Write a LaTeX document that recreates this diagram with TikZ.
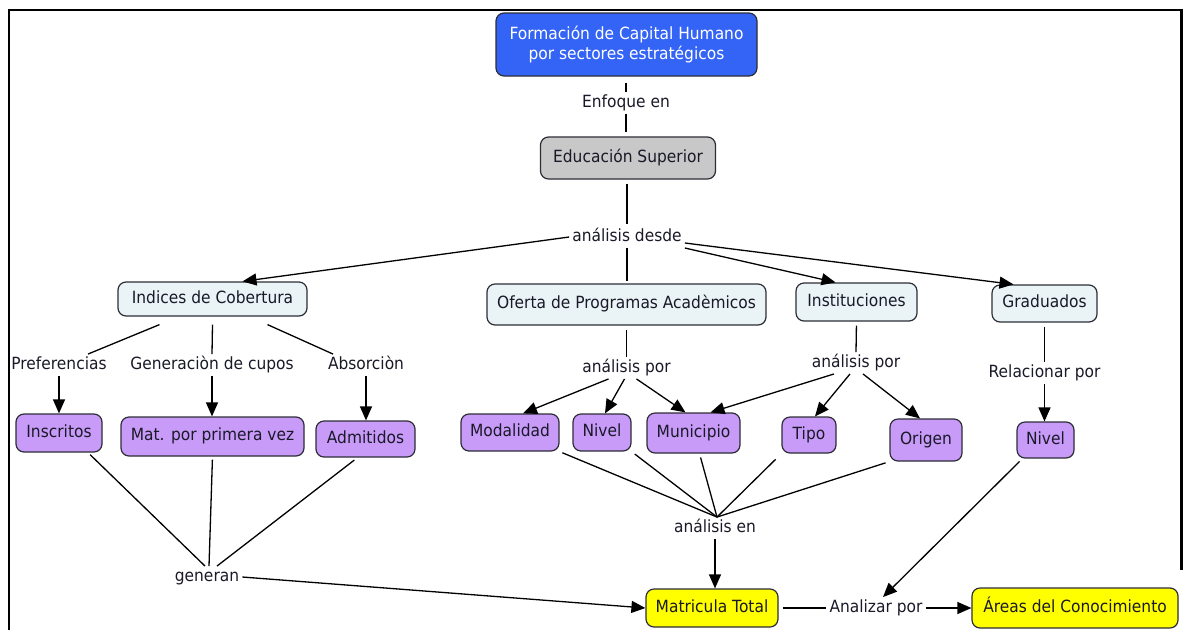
\documentclass[tikz,border=0pt]{standalone}
\usepackage{fontspec}
\setmainfont{DejaVu Sans}[FakeStretch=0.92]
\usetikzlibrary{arrows.meta}

\definecolor{boxline}{RGB}{45,45,55}
\definecolor{txt}{RGB}{25,25,40}
\definecolor{bluefill}{RGB}{52,100,245}
\definecolor{lightfill}{RGB}{234,243,246}
\definecolor{grayfill}{RGB}{200,200,200}
\definecolor{purplefill}{RGB}{200,155,248}
\definecolor{yellowfill}{RGB}{255,255,0}

\tikzset{
  basefont/.style={font=\fontsize{16.8}{20}\selectfont},
  box/.style={basefont, draw=boxline, line width=1.2pt, rounded corners=8pt,
    inner xsep=6pt, inner ysep=3pt, align=center, text=txt,
    text height=12pt, text depth=3.5pt},
  mainbox/.style={box, fill=bluefill, text=white, text height=, text depth=},
  topicbox/.style={box, fill=lightfill},
  graybox/.style={box, fill=grayfill},
  itembox/.style={box, fill=purplefill},
  resultbox/.style={box, fill=yellowfill},
  lbl/.style={basefont, inner sep=3pt, text=txt, text height=12pt, text depth=3.5pt},
  link/.style={draw=black, line width=1.3pt},
  arr/.style={link, -{Triangle[length=14pt,width=12pt]}},
}

\begin{document}
\begin{tikzpicture}[x=1pt,y=-1pt]
\useasboundingbox (0,0) rectangle (1183,630);

% frame
\draw[line width=2.2pt] (9,630) -- (9,10) -- (1181.5,10) -- (1181.5,570);

% concept boxes
\node[mainbox, minimum width=261pt, minimum height=63pt] (top) at (626.5,44.5)
  {Formación de Capital Humano\\por sectores estratégicos};
\node[graybox, minimum width=175pt, minimum height=42pt] (edu) at (628,158) {Educación Superior};

\node[topicbox, minimum width=189pt, minimum height=34pt] (idx) at (212.5,299) {Indices de Cobertura};
\node[topicbox, minimum width=279pt, minimum height=41pt] (ofe) at (626.5,304.5) {Oferta de Programas Acadèmicos};
\node[topicbox, minimum width=121pt, minimum height=38pt] (inst) at (856.5,302) {Instituciones};
\node[topicbox, minimum width=105pt, minimum height=37pt] (grad) at (1044.5,303.5) {Graduados};

\node[itembox, minimum width=86pt, minimum height=38pt] (insc) at (59,433) {Inscritos};
\node[itembox, minimum width=183pt, minimum height=39pt] (matp) at (212.5,436.5) {Mat. por primera vez};
\node[itembox, minimum width=99pt, minimum height=36pt] (adm) at (365.5,439) {Admitidos};

\node[itembox, minimum width=98pt, minimum height=37pt] (mod) at (510,432.5) {Modalidad};
\node[itembox, minimum width=58pt, minimum height=37pt] (niva) at (602,432.5) {Nivel};
\node[itembox, minimum width=93pt, minimum height=40pt] (mun) at (693.5,433) {Municipio};
\node[itembox, minimum width=54pt, minimum height=36pt] (tipo) at (809,435) {Tipo};
\node[itembox, minimum width=72pt, minimum height=42pt] (orig) at (926,440) {Origen};
\node[itembox, minimum width=57pt, minimum height=36pt] (nivb) at (1045.5,440) {Nivel};

\node[resultbox, minimum width=132pt, minimum height=38pt] (mat) at (712,608) {Matricula Total};
\node[resultbox, minimum width=206pt, minimum height=40pt] (areas) at (1075,608) {Áreas del Conocimiento};

% linking phrases
\node[lbl] (enf) at (626,103) {Enfoque en};
\node[lbl] (desde) at (627,237) {análisis desde};
\node[lbl] (pref) at (59,365) {Preferencias};
\node[lbl] (gcup) at (212,365) {Generaciòn de cupos};
\node[lbl] (abs) at (366,365) {Absorciòn};
\node[lbl] (apa) at (626.5,368) {análisis por};
\node[lbl] (apb) at (856,363) {análisis por};
\node[lbl] (rel) at (1044.5,373) {Relacionar por};
\node[lbl] (ae) at (715,528) {análisis en};
\node[lbl] (gen) at (207,577) {generan};
\node[lbl] (anal) at (876,608) {Analizar por};

% top chain
\draw[link, shorten <=6pt] (top.south -| enf.north) -- (enf.north);
\draw[link, shorten >=4pt] (enf.south) -- (enf.south |- edu.north);
\draw[link, shorten <=4pt, shorten >=2pt] (edu.south -| desde.north) -- (desde.north);

% from "análisis desde"
\draw[arr] (desde.west) -- ([xshift=30pt]idx.north);
\draw[link, shorten >=2pt] (desde.south) -- (desde.south |- ofe.north);
\draw[arr] ([yshift=-11pt]desde.east) -- ([xshift=-21pt]inst.north);
\draw[arr] ([yshift=-6pt]desde.east) -- ([xshift=-31pt]grad.north);

% Indices de Cobertura
\draw[link] ([xshift=-53pt,yshift=-8pt]idx.south) -- ([xshift=29pt]pref.north);
\draw[link] ([yshift=-8pt]idx.south) -- (gcup.north);
\draw[link] ([xshift=55pt,yshift=-8pt]idx.south) -- ([xshift=-33pt]abs.north);
\draw[arr] (pref.south) -- (pref.south |- insc.north);
\draw[arr] (gcup.south) -- (gcup.south |- matp.north);
\draw[arr] (abs.south) -- (abs.south |- adm.north);

% Oferta de Programas
\draw[link, shorten <=4pt] (ofe.south) -- (apa.north);
\draw[arr] ([xshift=-18pt]apa.south) -- ([xshift=13pt]mod.north);
\draw[arr] ([xshift=-2pt]apa.south) -- ([xshift=3pt]niva.north);
\draw[arr] ([xshift=10pt]apa.south) -- ([xshift=-8pt]mun.north);

% Instituciones
\draw[link, shorten <=4pt] (inst.south) -- (apb.north);
\draw[arr] ([xshift=-22pt]apb.south) -- ([xshift=17pt]mun.north);
\draw[arr] ([xshift=-6pt]apb.south) -- ([xshift=6pt]tipo.north);
\draw[arr] ([xshift=7pt]apb.south) -- ([xshift=-6pt]orig.north);

% Graduados
\draw[link, shorten <=4pt] (grad.south) -- (rel.north);
\draw[arr] (rel.south) -- (rel.south |- nivb.north);

% towards "análisis en"
\draw[link, shorten <=3pt] (mod.south east) -- ([xshift=2pt]ae.north);
\draw[link, shorten <=4pt] (niva.south east) -- ([xshift=2pt]ae.north);
\draw[link, shorten <=4pt] ([xshift=6pt]mun.south) -- ([xshift=2pt]ae.north);
\draw[link, shorten <=8pt] (tipo.south west) -- ([xshift=2pt]ae.north);
\draw[link, shorten <=4pt] (orig.south west) -- ([xshift=2pt]ae.north);
\draw[arr] (ae.south) -- (ae.south |- mat.north);

% towards "generan"
\draw[link, shorten <=3pt] ([xshift=29pt]insc.south) -- ([xshift=-2pt]gen.north);
\draw[link, shorten <=3pt] (matp.south) -- ([xshift=2pt]gen.north);
\draw[link, shorten <=4pt] ([xshift=-8pt]adm.south) -- ([xshift=10pt]gen.north);
\draw[arr] (gen.east) -- (mat.west);

% bottom row
\draw[link, shorten <=4pt] (mat.east) -- (anal.west);
\draw[arr] (anal.east) -- (areas.west);
\draw[arr, shorten <=4pt] ([xshift=6pt]nivb.south west) -- ([xshift=7pt]anal.north);
\end{tikzpicture}
\end{document}
